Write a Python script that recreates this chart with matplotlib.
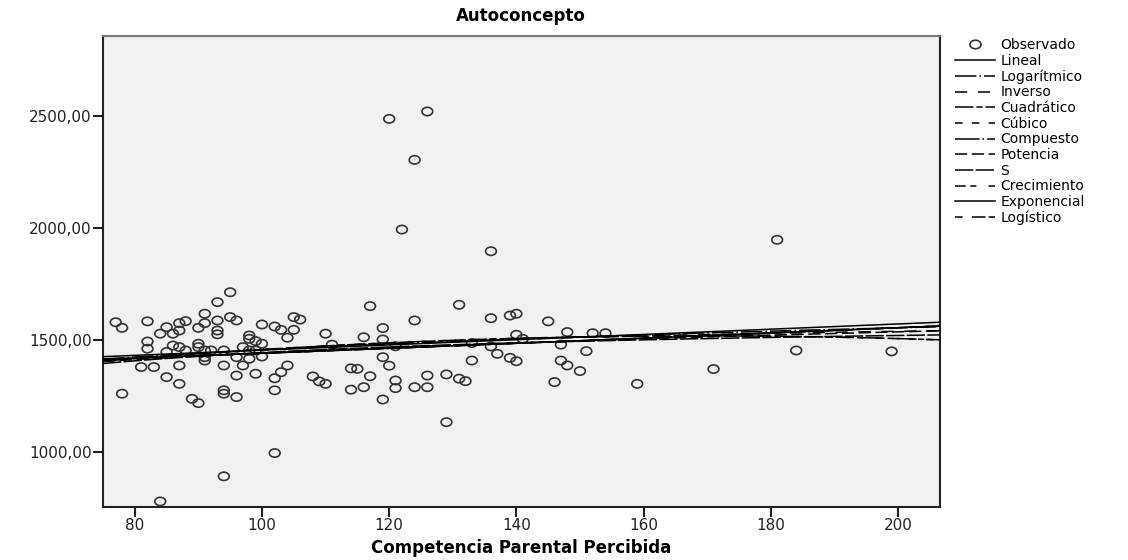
import numpy as np
import matplotlib
matplotlib.use("Agg")
import matplotlib.pyplot as plt
from matplotlib.lines import Line2D
from matplotlib.path import Path
from matplotlib.transforms import Affine2D
from matplotlib.ticker import FuncFormatter

# observed points: Competencia Parental Percibida vs Autoconcepto
competencia = [
    77, 78, 82, 95, 93, 91, 88, 87, 85, 84, 86, 87, 90, 91, 93, 93, 93, 95, 96, 100,
    102, 103, 105, 106, 105, 104, 110, 111, 82, 82, 86, 87, 90, 90, 85, 88, 91, 92, 94, 98,
    98, 99, 100, 97, 98, 99, 96, 98, 100, 91, 91, 81, 83, 87, 94, 97, 104, 85, 87, 96,
    99, 102, 103, 108, 109, 110, 78, 89, 90, 94, 94, 96, 102, 114, 114,
    117, 131, 124, 119, 136, 139, 140, 145, 116, 119, 121, 133, 136, 140, 141, 148, 152, 154, 147,
    151, 119, 120, 137, 139, 140, 133, 147, 148, 150, 115, 117, 126, 129, 131, 132, 121, 116, 121, 124,
    126, 119, 146, 129, 159,
    181, 171, 184, 199,
    120, 126, 124, 122, 136,
    102, 94, 84,
]
autoconcepto = [
    1579, 1554, 1583, 1713, 1669, 1617, 1584, 1575, 1557, 1528, 1528, 1542, 1554, 1575, 1587, 1542, 1525, 1602, 1587, 1569,
    1560, 1545, 1602, 1591, 1545, 1510, 1528, 1479, 1493, 1461, 1475, 1468, 1483, 1468, 1446, 1453, 1453, 1453, 1453, 1520,
    1505, 1495, 1483, 1468, 1453, 1453, 1423, 1416, 1426, 1423, 1408, 1379, 1379, 1386, 1386, 1386, 1386, 1334, 1304, 1341,
    1349, 1329, 1356, 1337, 1315, 1304, 1260, 1237, 1218, 1275, 1260, 1245, 1275, 1278, 1373,
    1651, 1657, 1587, 1553, 1597, 1609, 1617, 1583, 1512, 1502, 1472, 1486, 1471, 1523, 1505, 1535, 1530, 1530, 1479,
    1450, 1423, 1385, 1438, 1420, 1405, 1408, 1408, 1386, 1361, 1371, 1338, 1341, 1346, 1327, 1316, 1319, 1289, 1285, 1289,
    1289, 1234, 1312, 1133, 1304,
    1947, 1370, 1453, 1449,
    2487, 2520, 2304, 1993, 1896,
    995, 891, 779,
]

x_ticks = [80, 100, 120, 140, 160, 180, 200]
y_ticks = [1000, 1500, 2000, 2500]

x = np.array(competencia, dtype=float)
y = np.array(autoconcepto, dtype=float)
ly = np.log(y)

xs = np.linspace(75, 206.6, 300)

# SPSS-like curve estimation models
fits = {}
b = np.polyfit(x, y, 1); fits["Lineal"] = np.polyval(b, xs)
b = np.polyfit(np.log(x), y, 1); fits["Logarítmico"] = np.polyval(b, np.log(xs))
b = np.polyfit(1 / x, y, 1); fits["Inverso"] = np.polyval(b, 1 / xs)
b = np.polyfit(x, y, 2); fits["Cuadrático"] = np.polyval(b, xs)
b = np.polyfit(x, y, 3); fits["Cúbico"] = np.polyval(b, xs)
b = np.polyfit(x, ly, 1); fits["Compuesto"] = np.exp(np.polyval(b, xs))
b = np.polyfit(np.log(x), ly, 1); fits["Potencia"] = np.exp(np.polyval(b, np.log(xs)))
b = np.polyfit(1 / x, ly, 1); fits["S"] = np.exp(np.polyval(b, 1 / xs))
b = np.polyfit(x, ly, 1); fits["Crecimiento"] = np.exp(np.polyval(b, xs))
fits["Exponencial"] = np.exp(np.polyval(b, xs))
b = np.polyfit(x, -ly, 1); fits["Logístico"] = 1 / np.exp(np.polyval(b, xs))

styles = {
    "Lineal": "-",
    "Logarítmico": (0, (14, 2, 1, 2)),
    "Inverso": (0, (8, 7)),
    "Cuadrático": (0, (12, 2, 4, 2)),
    "Cúbico": (0, (5, 6)),
    "Compuesto": (0, (16, 2, 1, 2)),
    "Potencia": (0, (8, 3)),
    "S": (0, (12, 1.5)),
    "Crecimiento": (0, (7, 3, 4, 8)),
    "Exponencial": "-",
    "Logístico": (0, (5, 6, 9, 2)),
}

# slightly wide ellipse marker like the SPSS circles
ring = Path.unit_circle().transformed(Affine2D().scale(1.3, 1.0))

plt.rcParams['font.family'] = ['DejaVu Sans']

fig = plt.figure(figsize=(11.28, 5.6), dpi=100)
ax = fig.add_axes([0.0913, 0.0946, 0.7420, 0.8411])
ax.set_facecolor('#f0f0f0')

ax.scatter(x, y, s=60, marker=ring, facecolors='none', edgecolors='#333333', linewidths=1.2, zorder=3)

handles = [Line2D([], [], marker=ring, linestyle='none', markerfacecolor='none',
                  markeredgecolor='#333333', markersize=8, markeredgewidth=1.2)]
labels = ["Observado"]
for name, ys in fits.items():
    ax.plot(xs, ys, color='black', lw=1.1, linestyle=styles[name], zorder=4)
    handles.append(Line2D([], [], color='black', lw=1.1, linestyle=styles[name]))
    labels.append(name)

ax.set_xlim(75, 206.6)
ax.set_ylim(754, 2857)
ax.set_xticks(x_ticks)
ax.set_yticks(y_ticks)
ax.yaxis.set_major_formatter(FuncFormatter(lambda v, p: f"{v:.2f}".replace('.', ',')))
ax.tick_params(direction='out', length=7, width=1.5, pad=1, labelsize=11, colors='#222222')
for sp in ax.spines.values():
    sp.set_linewidth(1.5)
    sp.set_color('#222222')
ax.spines['top'].set_color('#777777')

fig.text(0.4619, 1 - 16 / 560, "Autoconcepto", ha='center', va='center', fontsize=12, fontweight='bold')
fig.text(0.4619, 1 - 548 / 560, "Competencia Parental Percibida", ha='center', va='center',
         fontsize=12, fontweight='bold')

fig.legend(handles, labels, loc='upper left', bbox_to_anchor=(955 / 1128, 1 - 38 / 560),
           frameon=False, fontsize=10, handlelength=2.9, handletextpad=0.35,
           labelspacing=0.12, borderpad=0, borderaxespad=0)

fig.savefig("out.png", dpi=100)
